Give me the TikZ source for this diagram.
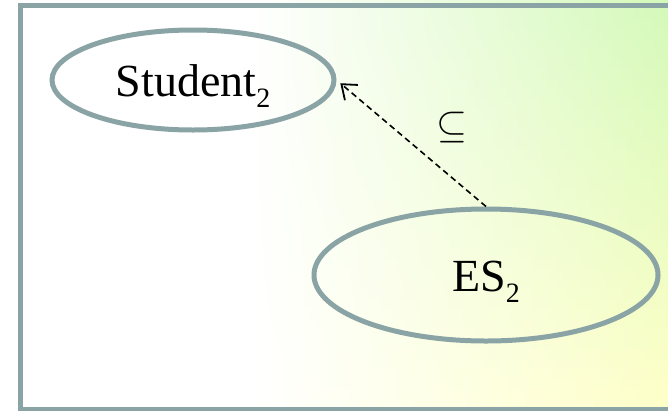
\documentclass[tikz,border=0pt]{standalone}
\usepackage{fontspec}
\setmainfont{Liberation Serif}
\usetikzlibrary{shapes.geometric,arrows.meta}
\definecolor{framec}{RGB}{138,164,166}
\definecolor{bggreen}{RGB}{212,249,186}
\definecolor{bgyellow}{RGB}{255,255,200}
\tikzset{
  setell/.style={ellipse, draw=framec, line width=5pt, inner sep=0pt,
    font=\fontsize{46}{50}\selectfont, text height=32pt, text depth=0pt},
  subarrow/.style={dash pattern=on 6pt off 4pt, line width=1.6pt,
    -{Straight Barb[length=13pt,width=20pt,line width=1.8pt]}, shorten >=5pt},
}
\newcommand{\subtwo}{\raisebox{-11pt}{\fontsize{28}{30}\selectfont 2}}
\begin{document}
\begin{tikzpicture}[x=1pt,y=-1pt]
\useasboundingbox (0,0) rectangle (668,410);
\fill[white] (0,0) rectangle (668,410);
\foreach \i in {0,...,41}{
  \pgfmathsetmacro{\p}{100-\i*100/41}
  \colorlet{stripc}{bggreen!\p!bgyellow}
  \shade[left color=white, right color=stripc] (250,\i*10-0.5) rectangle (668,\i*10+10.5);
}
\draw[framec, line width=5pt] (20.5,5) rectangle (700,409.5);
\node[setell, minimum width=282pt, minimum height=100pt] (st) at (193,80) {Student\subtwo};
\node[setell, minimum width=344pt, minimum height=132pt] (es) at (486,275) {ES\subtwo};
\draw[subarrow] (es.north) -- (st.east);
\node[inner sep=0pt] (lbl) at (452,128) {\resizebox{31pt}{!}{$\subseteq$}};
\end{tikzpicture}
\end{document}
